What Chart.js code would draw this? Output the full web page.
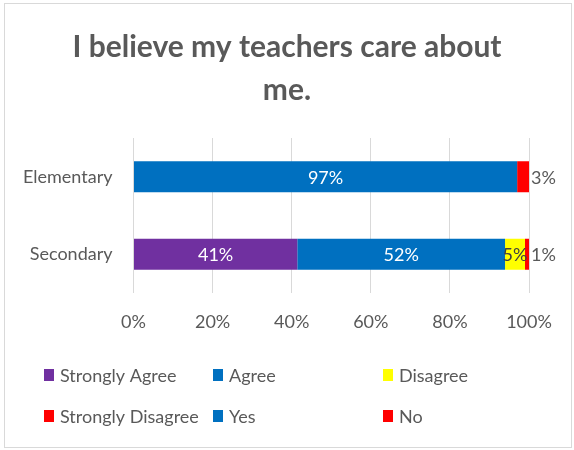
<!DOCTYPE html>
<html>
<head>
<meta charset="utf-8">
<script src="https://cdn.jsdelivr.net/npm/chart.js@4.4.1/dist/chart.umd.min.js"></script>
<style>
  html, body { margin: 0; padding: 0; background: #fff; }
  #wrap { position: relative; width: 574px; height: 450px; }
  #frame {
    position: absolute; left: 4px; top: 3px; width: 566px; height: 443px;
    border: 1px solid #d9d9d9; pointer-events: none;
  }
  canvas { position: absolute; left: 0; top: 0; }
</style>
</head>
<body>
<div id="wrap">
  <canvas id="surveyChart" width="574" height="450"></canvas>
  <div id="frame"></div>
</div>
<script>
// Survey data, percent of responses
const groups = ['Elementary', 'Secondary'];
const responses = ['Strongly Agree', 'Agree', 'Disagree', 'Strongly Disagree', 'Yes', 'No'];
const responseColors = ['#7030a0', '#0070c0', '#ffff00', '#ff0000', '#0070c0', '#ff0000'];
const stronglyAgree = [null, 41];
const agree = [null, 52];
const disagree = [null, 5];
const stronglyDisagree = [null, 1];
const yes = [97, null];
const no = [3, null];
const xTicks = [0, 20, 40, 60, 80, 100];
const titleLines = ['I believe my teachers care about', 'me.'];

const seriesValues = [stronglyAgree, agree, disagree, stronglyDisagree, yes, no];
const textColor = '#595959';
const fontFamily = 'Lato, "Open Sans", sans-serif';

// 100% stacked: each group is scaled to its own total
const groupTotals = groups.map((g, i) =>
  seriesValues.reduce((sum, s) => sum + (s[i] || 0), 0)
);

const datasets = responses.map((name, k) => ({
  label: name,
  raw: seriesValues[k],
  data: seriesValues[k].map((v, i) => (v == null ? null : v / groupTotals[i] * 100)),
  backgroundColor: responseColors[k],
  borderWidth: 0,
  barPercentage: 0.4,
  categoryPercentage: 1
}));

// title centred on the whole canvas, not just the plot
const centredTitle = {
  id: 'centredTitle',
  afterDraw(chart) {
    const ctx = chart.ctx;
    ctx.save();
    ctx.font = 'bold 30px ' + fontFamily;
    ctx.fillStyle = textColor;
    ctx.textAlign = 'center';
    ctx.textBaseline = 'middle';
    titleLines.forEach((line, i) => {
      ctx.fillText(line, chart.width / 2, 47 + i * 43);
    });
    ctx.restore();
  }
};

// value labels on each segment; red segments get theirs outside the bar
const segmentLabels = {
  id: 'segmentLabels',
  afterDatasetsDraw(chart) {
    const ctx = chart.ctx;
    ctx.save();
    ctx.font = '18px ' + fontFamily;
    ctx.textBaseline = 'middle';
    chart.data.datasets.forEach((ds, k) => {
      chart.getDatasetMeta(k).data.forEach((bar, i) => {
        const v = ds.raw[i];
        if (v == null) return;
        const text = v + '%';
        if (ds.backgroundColor === '#ff0000') {
          ctx.textAlign = 'left';
          ctx.fillStyle = textColor;
          ctx.fillText(text, bar.x + 2, bar.y + 1);
        } else {
          ctx.textAlign = 'center';
          ctx.fillStyle = ds.backgroundColor === '#ffff00' ? '#404040' : '#ffffff';
          ctx.fillText(text, (bar.base + bar.x) / 2, bar.y + 1);
        }
      });
    });
    ctx.restore();
  }
};

// legend in three columns below the axis
const gridLegend = {
  id: 'gridLegend',
  afterDraw(chart) {
    const ctx = chart.ctx;
    const cols = [44, 213, 383];
    const rows = [375, 416];
    ctx.save();
    ctx.font = '18px ' + fontFamily;
    ctx.textBaseline = 'middle';
    ctx.textAlign = 'left';
    chart.data.datasets.forEach((ds, k) => {
      const x = cols[k % 3];
      const y = rows[Math.floor(k / 3)];
      ctx.fillStyle = ds.backgroundColor;
      ctx.fillRect(x, y - 6, 10, 12);
      ctx.fillStyle = textColor;
      ctx.fillText(ds.label, x + 16, y + 1);
    });
    ctx.restore();
  }
};

new Chart(document.getElementById('surveyChart'), {
  type: 'bar',
  data: { labels: groups, datasets: datasets },
  plugins: [centredTitle, segmentLabels, gridLegend],
  options: {
    indexAxis: 'y',
    responsive: false,
    animation: false,
    layout: { padding: { left: 0, right: 45, top: 138, bottom: 112 } },
    plugins: {
      legend: { display: false },
      tooltip: { enabled: false },
      title: { display: false }
    },
    scales: {
      x: {
        stacked: true,
        min: 0,
        max: 100,
        afterBuildTicks(scale) {
          scale.ticks = xTicks.map(v => ({ value: v }));
        },
        afterFit(scale) { scale.height = 45; },
        grid: { color: '#d9d9d9', drawTicks: false },
        border: { display: false },
        ticks: {
          color: textColor,
          font: { family: fontFamily, size: 18 },
          padding: 18,
          callback: v => v + '%'
        }
      },
      y: {
        stacked: true,
        afterFit(scale) { scale.width = 133.5; },
        grid: { display: false, drawTicks: false },
        border: { display: false },
        ticks: {
          color: textColor,
          font: { family: fontFamily, size: 18 },
          padding: 21
        }
      }
    }
  }
});
</script>
</body>
</html>
